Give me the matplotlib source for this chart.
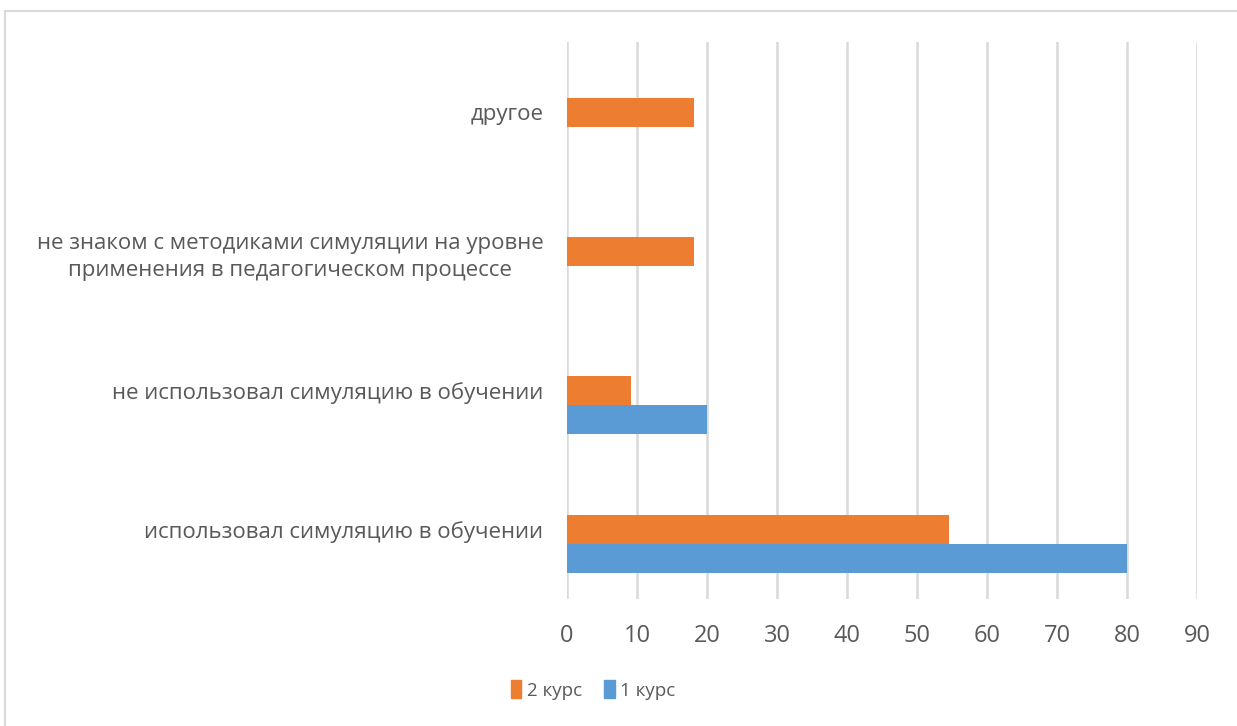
import matplotlib.pyplot as plt
from matplotlib.patches import Rectangle, Patch
import numpy as np

plt.rcParams['font.family'] = ['Open Sans', 'DejaVu Sans']

categories = ['использовал симуляцию в обучении',
              'не использовал симуляцию в обучении',
              'не знаком с методиками симуляции на уровне\nприменения в педагогическом процессе',
              'другое']
kurs1 = [80, 20, 0, 0]
kurs2 = [54.5, 9.1, 18.2, 18.2]
xticks = [0, 10, 20, 30, 40, 50, 60, 70, 80, 90]

blue = '#5B9BD5'
orange = '#ED7D31'
txt = '#595959'

fig = plt.figure(figsize=(12.37, 7.26), dpi=100)
fig.patches.append(Rectangle((5/1237, -0.1), 1.2, 1 - 11/726 + 0.1, transform=fig.transFigure,
                             fill=False, edgecolor='#d9d9d9', linewidth=1.5))
ax = fig.add_axes([567/1237, 1 - 599/726, 630/1237, 557/726])

y = np.arange(len(categories))
h = 0.21
ax.barh(y + h/2, kurs2, height=h, color=orange, label='2 курс', zorder=3)
ax.barh(y - h/2, kurs1, height=h, color=blue, label='1 курс', zorder=3)

ax.set_xlim(0, 90)
ax.set_ylim(-0.396, 3.612)
ax.set_xticks(xticks)
ax.set_xticklabels([str(t) for t in xticks], fontsize=17, color=txt)
ax.set_yticks(y + h/2)
ax.set_yticklabels(categories, fontsize=16, color=txt, linespacing=1.35)
for lab in ax.get_yticklabels():
    lab.set_multialignment('center')
ax.tick_params(axis='y', length=0, pad=17)
ax.tick_params(axis='x', length=0, pad=18)
ax.grid(axis='x', color='#d9d9d9', linewidth=1.8, zorder=0)
for s in ax.spines.values():
    s.set_visible(False)

handles = [Patch(color=orange, label='2 курс'), Patch(color=blue, label='1 курс')]
fig.legend(handles=handles, loc='center', bbox_to_anchor=(593/1237, 1 - 690/726), ncol=2,
           frameon=False, fontsize=13.5, labelcolor=txt, handlelength=0.55, handleheight=1.1,
           handletextpad=0.3, columnspacing=1.2)

fig.savefig('out.png', dpi=100)
